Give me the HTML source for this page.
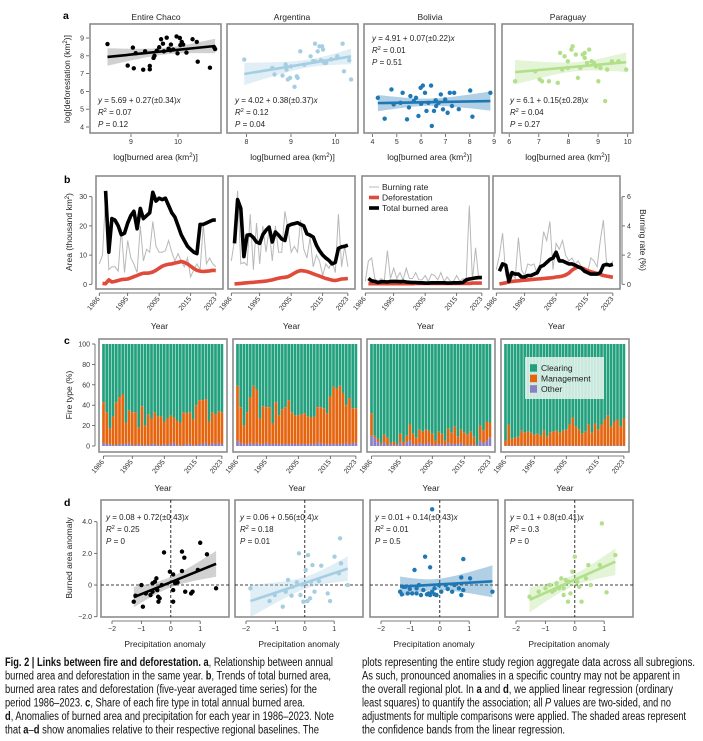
<!DOCTYPE html>
<html><head><meta charset="utf-8">
<style>
html,body{margin:0;padding:0;background:#fff;}
svg{display:block;font-family:"Liberation Sans",sans-serif;}
.t7{font-size:7px;fill:#333;}
.t8{font-size:8.5px;fill:#222;}
.lt{font-size:10.5px;font-weight:bold;fill:#000;}
.cap{font-family:"Liberation Sans Narrow","Liberation Sans",sans-serif;font-size:11.5px;fill:#111;}
</style></head>
<body>
<svg id="fig" width="703" height="741" viewBox="0 0 703 741" xmlns="http://www.w3.org/2000/svg">
<text class="lt" x="63" y="19">a</text>
<text class="lt" x="64" y="183">b</text>
<text class="lt" x="64" y="344">c</text>
<text class="lt" x="64" y="506">d</text>
<g class="t8" text-anchor="middle">
<text x="156" y="20">Entire Chaco</text>
<text x="292" y="20">Argentina</text>
<text x="430" y="20">Bolivia</text>
<text x="568" y="20">Paraguay</text>
<text transform="translate(70,79) rotate(-90)">log[deforestation (km<tspan dy="-3" font-size="6">2</tspan><tspan dy="3">)]</tspan></text>
<text transform="translate(72,232) rotate(-90)">Area (thousand km<tspan dy="-3" font-size="6">2</tspan><tspan dy="3">)</tspan></text>
<text transform="translate(640,240) rotate(90)">Burning rate (%)</text>
<text transform="translate(72,395) rotate(-90)">Fire type (%)</text>
<text transform="translate(72,558) rotate(-90)">Burned area anomaly</text>
</g>
<g id="cap" class="cap">
<text x="5" y="666" textLength="328" lengthAdjust="spacingAndGlyphs"><tspan font-weight="bold">Fig. 2 | Links between fire and deforestation.</tspan> <tspan font-weight="bold">a</tspan>, Relationship between annual</text>
<text x="5" y="679.5" textLength="326" lengthAdjust="spacingAndGlyphs">burned area and deforestation in the same year. <tspan font-weight="bold">b</tspan>, Trends of total burned area,</text>
<text x="5" y="693" textLength="312" lengthAdjust="spacingAndGlyphs">burned area rates and deforestation (five-year averaged time series) for the</text>
<text x="5" y="706.5" textLength="300" lengthAdjust="spacingAndGlyphs">period 1986–2023. <tspan font-weight="bold">c</tspan>, Share of each fire type in total annual burned area.</text>
<text x="5" y="720" textLength="329" lengthAdjust="spacingAndGlyphs"><tspan font-weight="bold">d</tspan>, Anomalies of burned area and precipitation for each year in 1986–2023. Note</text>
<text x="5" y="733.5" textLength="314" lengthAdjust="spacingAndGlyphs">that <tspan font-weight="bold">a</tspan>–<tspan font-weight="bold">d</tspan> show anomalies relative to their respective regional baselines. The</text>
<text x="362" y="666" textLength="333" lengthAdjust="spacingAndGlyphs">plots representing the entire study region aggregate data across all subregions.</text>
<text x="362" y="679.5" textLength="318" lengthAdjust="spacingAndGlyphs">As such, pronounced anomalies in a specific country may not be apparent in</text>
<text x="362" y="693" textLength="311" lengthAdjust="spacingAndGlyphs">the overall regional plot. In <tspan font-weight="bold">a</tspan> and <tspan font-weight="bold">d</tspan>, we applied linear regression (ordinary</text>
<text x="362" y="706.5" textLength="309" lengthAdjust="spacingAndGlyphs">least squares) to quantify the association; all <tspan font-style="italic">P</tspan> values are two-sided, and no</text>
<text x="362" y="720" textLength="324" lengthAdjust="spacingAndGlyphs">adjustments for multiple comparisons were applied. The shaded areas represent</text>
<text x="362" y="733.5" textLength="203" lengthAdjust="spacingAndGlyphs">the confidence bands from the linear regression.</text>
</g>
</svg>
<script>
// ---------- DATA ----------
const regions = ['entire-chaco','argentina','bolivia','paraguay'];
const regionColors = ['#000000','#a6cee3','#1f78b4','#b2df8a'];

// Panel a: [log burned area, log deforestation]
const aChaco = [[8.50,8.66],[9.04,8.46],[8.93,7.45],[9.06,7.30],[9.26,7.22],[9.40,7.43],[9.40,7.24],[9.48,7.88],[9.55,8.29],[9.60,8.48],[9.64,8.93],[9.68,8.68],[9.76,9.02],[9.85,8.63],[9.84,8.31],[9.97,9.09],[10.04,9.0],[10.08,8.78],[10.11,8.63],[9.99,8.14],[10.18,8.18],[10.31,8.93],[10.40,8.78],[10.42,7.67],[10.68,7.33],[10.77,8.48],[10.79,8.38],[9.1,8.15],[9.3,8.25],[9.7,8.25],[9.9,8.35],[10.05,8.6],[9.5,8.0],[9.8,8.4]];
const aArgentina = [[7.95,7.79],[8.58,7.32],[8.81,6.89],[8.88,7.51],[8.90,7.23],[8.98,6.76],[9.08,6.26],[8.93,6.67],[9.13,6.85],[9.15,6.76],[9.21,8.25],[9.44,7.97],[9.54,8.68],[9.60,8.25],[9.64,8.53],[9.70,8.53],[9.72,8.35],[9.74,7.69],[9.67,7.75],[9.54,7.69],[9.79,7.60],[10.04,7.97],[10.16,8.68],[10.19,7.13],[10.31,7.75],[10.35,6.67],[9.75,7.6],[8.63,6.95],[9.0,7.4],[9.3,7.5],[9.5,7.7],[9.9,7.8]];
const aBolivia = [[4.22,5.64],[4.50,4.47],[4.78,6.11],[4.87,5.27],[5.15,5.36],[5.24,5.92],[5.42,4.43],[5.56,5.74],[5.70,5.46],[5.79,5.64],[5.89,4.62],[5.98,6.20],[6.07,6.33],[6.16,5.92],[6.22,4.90],[6.30,5.36],[6.41,6.33],[6.44,4.06],[6.53,4.90],[6.62,5.18],[6.72,5.36],[6.81,5.83],[6.90,4.99],[6.99,5.55],[7.09,4.80],[7.18,5.92],[7.27,5.18],[7.36,5.92],[7.55,5.0],[8.02,6.05],[8.11,4.58],[8.85,5.92],[6.0,5.3],[6.6,5.5],[5.5,5.1]];
const aParaguay = [[6.20,6.57],[6.88,7.13],[7.03,6.67],[7.11,6.57],[7.34,6.57],[7.64,6.48],[7.72,8.16],[7.79,7.23],[7.87,7.97],[7.98,7.69],[8.10,8.35],[8.14,8.53],[8.25,8.07],[8.32,6.76],[8.40,7.32],[8.48,8.07],[8.55,7.88],[8.63,7.60],[8.70,8.35],[8.78,7.69],[8.86,7.60],[8.93,7.41],[9.01,6.57],[9.08,7.32],[9.24,5.46],[9.31,7.23],[9.47,7.69],[9.69,7.69],[9.95,7.23],[7.98,7.32],[8.55,8.16]];
const aEquations = ['5.69 + 0.27(±0.34)','4.02 + 0.38(±0.37)','4.91 + 0.07(±0.22)','6.1 + 0.15(±0.28)'];
const aR2 = ['0.07','0.12','0.01','0.04'];
const aP = ['0.12','0.04','0.51','0.27'];
const aXTicks = [[9,10],[8,9,10],[4,5,6,7,8,9],[6,7,8,9,10]];
const aYTicks = [4,5,6,7,8,9];

// Panel b: years 1986-2023 (thousand km2 / %)
const years = [1986,1987,1988,1989,1990,1991,1992,1993,1994,1995,1996,1997,1998,1999,2000,2001,2002,2003,2004,2005,2006,2007,2008,2009,2010,2011,2012,2013,2014,2015,2016,2017,2018,2019,2020,2021,2022,2023];
const yearTicks = [1986,1995,2005,2015,2023];
const burnedChaco = [null,null,32,11,22.5,22,20,17,17.5,21,23.5,25,19,26,22.5,23.5,24.5,31.5,28.5,29.5,29,29.5,27,24.5,23,20,17,15,13,12,11,10.5,20.5,20.5,21,21.5,22,22];
const burnedArgentina = [null,14,29,26,9.5,16.8,17,16,14.5,14,17,18.5,19.6,14.5,17.9,16.8,15.5,15,20,20.5,20.8,21.1,20.5,20,17.3,16.8,16.2,13.4,11.5,10,9,8.2,7,7.5,12.3,12.8,13,13.4];
const burnedBolivia = [null,2,1.2,1,0.6,0.9,0.9,0.8,1,1,1,0.9,1,0.8,0.7,0.6,0.6,0.5,0.5,0.4,0.4,0.5,0.5,0.5,0.5,0.5,0.4,0.4,0.5,0.5,0.5,0.6,1.5,1.8,2,2.2,2.3,2.3];
const burnedParaguay = [null,4.5,7,6.5,1,4,3.5,3.5,2.5,2.5,3,3,3.5,4,6,6.5,7.5,8.5,9,11,8,8,7.5,7,7,6.5,6,5.5,4.5,4,3.5,3.5,3.5,4,6.5,6.8,6.5,6.8];
const deforChaco = [null,0.3,0.2,1.5,0.8,1.0,1.3,1.6,1.7,1.8,2.2,2.6,3.0,3.5,3.8,3.8,3.9,4.2,4.8,5.5,6.2,6.6,6.9,7.0,7.3,7.5,7.8,7.5,7.0,6.2,5.4,4.8,4.5,4.4,4.5,4.6,4.8,4.7];
const deforArgentina = [null,0.1,0.2,0.3,0.4,0.5,0.6,0.7,0.8,0.9,1.0,1.1,1.3,1.5,1.8,2.1,2.3,2.4,2.6,3.2,3.8,4.4,4.7,4.6,4.4,4.0,3.6,3.2,2.8,2.4,2.0,1.7,1.4,1.3,1.5,1.8,1.9,2.0];
const deforBolivia = [null,0.2,0.2,0.2,0.2,0.2,0.2,0.2,0.2,0.2,0.2,0.2,0.2,0.2,0.2,0.2,0.3,0.3,0.3,0.3,0.3,0.3,0.3,0.3,0.3,0.3,0.3,0.3,0.3,0.3,0.3,0.3,0.3,0.3,0.4,0.4,0.4,0.4];
const deforParaguay = [null,0.1,0.3,0.5,0.8,1,1.1,1.2,1.3,1.4,1.5,1.6,1.7,1.8,1.9,2,2.1,2.2,2.3,2.5,2.6,2.8,3.2,3.8,4.8,5.5,6.0,5.6,5.2,4.7,4.3,4.0,3.7,3.4,3.0,2.8,2.6,2.4];
const rateChaco = [1.4,2,6,1,1.2,1.2,0.9,3.8,0.8,3,1.8,1.4,0.8,4,1.6,2.4,2.2,4.3,2.6,2.2,2.2,2.3,3,2.2,1.6,2.1,1.6,1.2,1.8,0.5,1,1.4,1,4.1,1.4,1.8,1.4,1.2];
const rateArgentina = [1.6,3,6.4,1.4,1.5,1.3,4.8,1,4.2,1.4,4,2.2,3.8,1.6,4,2.2,2.2,5,3.8,2.2,2.6,2.2,4.4,2.4,1.8,3.2,1.2,2,1.6,0.6,1.4,1.1,1.6,0.8,4.8,1.2,2.6,1.2];
const rateBolivia = [0.2,1.6,1.8,0.4,0.2,0.4,0.2,2.3,0.4,1.1,0.4,0.8,0.3,1.1,0.4,0.4,0.8,0.3,0.3,0.6,0.2,0.7,0.6,0.3,0.8,0.2,0.5,0.2,0.2,0.6,0.2,0.4,0.2,5.4,0.3,2.5,0.4,0.5];
const rateParaguay = [1,2,3.5,0.6,0.8,0.7,0.4,3.2,1,0.6,1.4,1.3,1.4,0.6,1.6,3.6,3,4.3,1,2.8,2.4,3,2,1.6,1.8,1.4,1.6,1.2,1,0.8,1.8,1.6,1.2,3,4.4,1.4,1.2,1.6];
const bYTicks = [0,10,20,30];
const bRateTicks = [0,2,4,6];

// Panel c: share (%) of management and other fire
const mgmtChaco = [40,31,15,28,42,46,49,21,32,32,32,16,38,19,30,25,31,28,28,22,26,28,25,24,22,32,30,31,25,39,43,43,43,23,30,29,31,31];
const otherChaco = [3,2,2,1,1,2,2,2,3,1,1,2,1,1,1,2,2,1,1,2,1,2,3,1,1,1,2,2,1,1,2,2,3,1,3,2,3,2];
const mgmtArgentina = [54,35,18,31,45,57,52,25,37,35,36,20,41,28,34,36,43,31,28,28,29,30,27,26,27,35,35,35,30,47,56,54,57,50,37,45,34,34];
const otherArgentina = [5,3,2,2,3,2,3,2,2,3,2,2,2,2,2,2,2,2,2,2,2,2,2,2,2,3,3,2,2,2,2,2,2,2,3,2,3,3];
const mgmtBolivia = [22,2,3,1,8,7,1,3,1,9,3,6,16,10,7,13,12,14,12,11,4,12,10,4,14,11,17,7,13,12,10,13,8,0.5,15,12,19,15];
const otherBolivia = [10,8,4,2,3,1,2,1,1,3,1,4,5,2,1,3,2,2,3,1,1,2,2,1,3,2,2,2,3,1,1,1,1,0.5,5,3,5,8];
const mgmtParaguay = [4.5,20.5,6.5,7.5,8.5,14.5,12.5,13.5,12.5,10.5,11.5,9.5,14.5,8.5,12.5,13.5,14.5,12.5,14.5,15.5,20.5,27.5,18.5,15.5,11.5,13.5,20.5,12.5,21.5,15.5,20.5,25.5,29.5,18.5,23.5,25.5,18.5,26.5];
const otherParaguay = [0.5,0.5,0.5,0.5,0.5,0.5,0.5,0.5,0.5,0.5,0.5,0.5,0.5,0.5,0.5,0.5,0.5,0.5,0.5,0.5,0.5,0.5,0.5,0.5,0.5,0.5,0.5,0.5,0.5,0.5,0.5,0.5,0.5,0.5,0.5,0.5,0.5,0.5];
const cYTicks = [0,20,40,60,80,100];

// Panel d: [precipitation anomaly, burned area anomaly]
const dChaco = [[-1.26,-1.05],[-1.2,-0.67],[-1,0],[-0.95,-1.37],[-0.85,-0.53],[-0.69,-0.63],[-0.62,0.11],[-0.54,0.21],[-0.49,0.42],[-0.46,-0.32],[-0.43,-0.74],[-0.42,-1.05],[-0.38,-0.84],[-0.62,-0.42],[-0.23,2.06],[-0.03,0.84],[0.08,-0.32],[0.08,-1.05],[0.15,0.11],[0.23,0.17],[0.38,2.11],[0.38,0.88],[0.46,1.73],[0.49,-0.42],[0.69,-0.53],[0.74,-0.42],[0.92,0.95],[1,2.67],[1.23,1.94],[1.54,-0.21],[0.08,0.67],[-0.31,0]];
const dArgentina = [[-1.85,-0.21],[-1.2,-1.01],[-1.02,-0.63],[-0.75,-1.37],[-0.65,-0.42],[-0.57,0.32],[-0.42,-0.11],[-0.27,0.17],[-0.2,2.0],[-0.15,-0.63],[-0.09,0.04],[-0.05,-1.05],[0.03,0.95],[0.09,-1.01],[0.11,1.89],[0.21,0.21],[0.26,1.26],[0.33,-0.42],[0.48,0.25],[0.56,1.22],[0.78,-0.53],[0.86,-1.01],[1.01,1.79],[1.16,0.74],[1.2,2.95],[1.23,1.37],[1.46,0],[-0.45,-0.67],[0.18,-0.84]];
const dBolivia = [[-1.35,-0.42],[-1.29,-0.59],[-1.24,-0.11],[-1.17,-0.11],[-1.09,-0.53],[-1.02,-0.25],[-0.94,-0.53],[-0.86,0.95],[-0.79,-0.21],[-0.71,0],[-0.64,-0.63],[-0.56,-0.32],[-0.5,1.79],[-0.44,-0.59],[-0.38,-0.53],[-0.33,-0.63],[-0.33,1.12],[-0.26,-0.42],[-0.18,-0.21],[-0.11,-0.63],[-0.03,0],[0.05,-0.42],[0.2,0],[0.27,-0.25],[0.42,-0.42],[0.5,0],[0.65,-0.21],[0.73,-0.63],[0.73,0.48],[0.8,1.64],[0.8,-0.32],[1.03,0.42],[1.79,-0.42],[-0.26,4.78],[-0.79,-0.53],[-0.18,-0.59]];
const dParaguay = [[-1.54,-0.74],[-1.23,-0.42],[-1,-0.21],[-0.85,0],[-0.77,-0.42],[-0.69,-0.32],[-0.62,0.11],[-0.54,-0.21],[-0.46,0.42],[-0.38,-0.63],[-0.31,0.32],[-0.23,-1.05],[-0.15,-0.53],[-0.08,0.84],[0,1.79],[0.08,0.21],[0.15,-0.11],[0.23,-1.05],[0.38,0.42],[0.46,1.26],[0.54,0],[0.85,1.26],[0.92,3.89],[1.08,-0.46],[1.38,1.89],[-0.2,0.21],[-0.38,-0.21]];
const dEquations = ['0.08 + 0.72(±0.43)','0.06 + 0.56(±0.4)','0.01 + 0.14(±0.43)','0.1 + 0.8(±0.41)'];
const dR2 = ['0.25','0.18','0.01','0.3'];
const dP = ['0','0.01','0.5','0'];
const dXTicks = [-2,-1,0,1];
const dYTicks = [-2,0,2,4];
const dYTickLabels = ['−2.0','0','2.0','4.0'];

// ---------- DRAWING ----------
const NS='http://www.w3.org/2000/svg';
const svg=document.getElementById('fig');
function mk(tag, attrs, parent){const e=document.createElementNS(NS,tag);for(const k in attrs)e.setAttribute(k,attrs[k]);(parent||svg).appendChild(e);return e;}
function lin(d0,d1,r0,r1){return v=>r0+(v-d0)*(r1-r0)/(d1-d0);}

function box(x,y,w,h,name){
  const r=mk('rect',{x:x,y:y,width:w,height:h,fill:'none',stroke:'#8c8c8c','stroke-width':1.6});
  
  
}
function label(x,y,str,cls,anchor,name){
  const t=mk('text',{x:x,y:y,class:cls,'text-anchor':anchor||'middle'});
  t.textContent=str;
  
  
  return t;
}
function tickLine(x1,y1,x2,y2,name){
  const l=mk('line',{x1:x1,y1:y1,x2:x2,y2:y2,stroke:'#555','stroke-width':0.8});
  
  
}
function ols(pts){
  const n=pts.length;let mx=0,my=0;pts.forEach(p=>{mx+=p[0];my+=p[1];});mx/=n;my/=n;
  let sxx=0,sxy=0;pts.forEach(p=>{sxx+=(p[0]-mx)**2;sxy+=(p[0]-mx)*(p[1]-my);});
  const b=sxy/sxx,a=my-b*mx;let sse=0;pts.forEach(p=>{sse+=(p[1]-a-b*p[0])**2;});
  const s=Math.sqrt(sse/(n-2));
  return {a,b,mx,sxx,s,n,xmin:Math.min(...pts.map(p=>p[0])),xmax:Math.max(...pts.map(p=>p[0]))};
}
function eqText(x,y,eq,r2,p,name){
  const g=mk('g',{class:'t8'});
  
  
  const t1=mk('text',{x:x,y:y,'font-size':'8'},g);
  t1.innerHTML='<tspan font-style="italic">y</tspan> = '+eq+'<tspan font-style="italic">x</tspan>';
  const t2=mk('text',{x:x,y:y+12,'font-size':'8'},g);
  t2.innerHTML='<tspan font-style="italic">R</tspan><tspan dy="-3" font-size="5.5">2</tspan><tspan dy="3"> = '+r2+'</tspan>';
  const t3=mk('text',{x:x,y:y+24,'font-size':'8'},g);
  t3.innerHTML='<tspan font-style="italic">P</tspan> = '+p;
}
function scatter(pts,sx,sy,color,region,prefix){
  const g=mk('g',{});
  
  
  const f=ols(pts);const tcrit=2.03;
  const N=30;let up=[],lo=[];
  for(let i=0;i<=N;i++){const xv=f.xmin+(f.xmax-f.xmin)*i/N;const yv=f.a+f.b*xv;
    const se=f.s*Math.sqrt(1/f.n+(xv-f.mx)**2/f.sxx)*tcrit;
    up.push(sx(xv).toFixed(1)+','+sy(yv+se).toFixed(1));lo.unshift(sx(xv).toFixed(1)+','+sy(yv-se).toFixed(1));}
  const band=mk('polygon',{points:up.concat(lo).join(' '),fill:color==='#000000'?'#9a9a9a':color,'fill-opacity':color==='#000000'?0.45:0.35},g);
  
  
  pts.forEach((p,i)=>{
    const c=mk('circle',{cx:sx(p[0]).toFixed(2),cy:sy(p[1]).toFixed(2),r:2.2,fill:color},g);
    
    
  });
  const ln=mk('line',{x1:sx(f.xmin),y1:sy(f.a+f.b*f.xmin),x2:sx(f.xmax),y2:sy(f.a+f.b*f.xmax),stroke:color,'stroke-width':2.6},g);
  
  
}

// ---- Panel a ----
const aLeft=[90,227,364,502], aW=131, aTop=24, aBot=133;
const aXDom=[[8.128,10.915],[7.562,10.506],[3.65,9.04],[5.757,10.18]];
const aSets=[aChaco,aArgentina,aBolivia,aParaguay];
const aYs=lin(3.663,9.787,aBot,aTop);
aSets.forEach((pts,i)=>{
  const sx=lin(aXDom[i][0],aXDom[i][1],aLeft[i],aLeft[i]+aW);
  box(aLeft[i],aTop,aW,aBot-aTop,'panel-a-'+regions[i]+'-frame');
  scatter(pts,sx,aYs,regionColors[i],regions[i],'panel-a');
  aXTicks[i].forEach(v=>{tickLine(sx(v),aBot+1,sx(v),aBot+4,'panel-a-x-tick');label(sx(v),aBot+11,String(v),'t7','middle','panel-a-x-tick-label');});
  label(aLeft[i]+aW/2,160,'','t8','middle','panel-a-x-axis-title').innerHTML='log[burned area (km<tspan dy="-3" font-size="6">2</tspan><tspan dy="3">)]</tspan>';
  if(i===2) eqText(aLeft[i]+8,41,aEquations[i],aR2[i],aP[i],'panel-a-'+regions[i]+'-equation');
  else eqText(aLeft[i]+8,103,aEquations[i],aR2[i],aP[i],'panel-a-'+regions[i]+'-equation');
});
aYTicks.forEach(v=>{tickLine(86,aYs(v),89,aYs(v),'panel-a-y-tick');label(84,aYs(v)+2.5,String(v),'t7','end','panel-a-y-tick-label');});

// ---- Panel b ----
const bLeft=[96,228,362,493], bW=127, bTop=176, bBot=289;
const bYs=lin(0,30,284.3,196.7);
const bRs=lin(0,6,284.3,196.7);
const burnedSets=[burnedChaco,burnedArgentina,burnedBolivia,burnedParaguay];
const deforSets=[deforChaco,deforArgentina,deforBolivia,deforParaguay];
const rateSets=[rateChaco,rateArgentina,rateBolivia,rateParaguay];
function pathFrom(vals,sx,sy){let d='',pen=false;vals.forEach((v,i)=>{if(v===null){pen=false;return;}d+=(pen?'L':'M')+sx(years[i]).toFixed(1)+','+sy(v).toFixed(1);pen=true;});return d;}
for(let i=0;i<4;i++){
  const sx=lin(1986,2023,bLeft[i]+3.3,bLeft[i]+3.3+37*3.15);
  box(bLeft[i],bTop,bW,bBot-bTop,'panel-b-'+regions[i]+'-frame');
  const g=mk('g',{});
  
  
  const pr=mk('path',{d:pathFrom(rateSets[i],sx,bRs),fill:'none',stroke:'#b8b8b8','stroke-width':1},g);
  
  
  const pd=mk('path',{d:pathFrom(deforSets[i],sx,bYs),fill:'none',stroke:'#e04a3b','stroke-width':3.6,'stroke-linejoin':'round'},g);
  
  
  const pb=mk('path',{d:pathFrom(burnedSets[i],sx,bYs),fill:'none',stroke:'#000','stroke-width':3.6,'stroke-linejoin':'round'},g);
  
  
  tickLine(sx(1986),293,sx(2023),293,'panel-b-x-axis-line');
  yearTicks.forEach(y=>{tickLine(sx(y),293,sx(y),296,'panel-b-x-tick');
    const t=label(sx(y)+1,299,String(y),'t7','end','panel-b-x-tick-label');t.setAttribute('transform','rotate(-50 '+(sx(y)+1)+' 299)');});
  label(bLeft[i]+bW/2,329,'Year','t8','middle','panel-b-x-axis-title');
}
tickLine(92,bYs(0),92,bYs(30),'panel-b-y-axis-line');
bYTicks.forEach(v=>{tickLine(89,bYs(v),92,bYs(v),'panel-b-y-tick');label(87,bYs(v)+2.5,String(v),'t7','end','panel-b-y-tick-label');});
tickLine(622,bRs(0),622,bRs(6),'panel-b-right-axis-line');
bRateTicks.forEach(v=>{tickLine(622,bRs(v),625,bRs(v),'panel-b-right-tick');label(627,bRs(v)+2.5,String(v),'t7','start','panel-b-right-tick-label');});
// legend
const legItems=[['Burning rate','#b8b8b8',1],['Deforestation','#e04a3b',3.6],['Total burned area','#000',3.6]];
legItems.forEach((it,k)=>{const y=187+k*10.5;
  const l=mk('line',{x1:369,y1:y,x2:379,y2:y,stroke:it[1],'stroke-width':it[2]});
  
  
  label(382,y+3,it[0],'t8','start','panel-b-legend-entry').setAttribute('font-size','8');});

// ---- Panel c ----
const cLeft=[99,233,367,501], cW=128, cTop=339, cBot=452;
const cYs=lin(0,100,446,344);
const mgmtSets=[mgmtChaco,mgmtArgentina,mgmtBolivia,mgmtParaguay];
const otherSets=[otherChaco,otherArgentina,otherBolivia,otherParaguay];
for(let i=0;i<4;i++){
  const sx=lin(1986,2023,cLeft[i]+4.5,cLeft[i]+4.5+37*3.2);
  box(cLeft[i],cTop,cW,cBot-cTop,'panel-c-'+regions[i]+'-frame');
  const g=mk('g',{});
  
  
  years.forEach((y,j)=>{
    const x=sx(y)-1.35,w=2.7;const o=otherSets[i][j],m=mgmtSets[i][j];
    const rc=mk('rect',{x:x,y:cYs(100),width:w,height:cYs(o+m)-cYs(100),fill:'#23a07d'},g);
    
    
    const rm=mk('rect',{x:x,y:cYs(o+m),width:w,height:cYs(o)-cYs(o+m),fill:'#e5650e'},g);
    
    
    const ro=mk('rect',{x:x,y:cYs(o),width:w,height:cYs(0)-cYs(o),fill:'#8a7fc4'},g);
    
    
  });
  tickLine(sx(1986),456,sx(2023),456,'panel-c-x-axis-line');
  yearTicks.forEach(y=>{tickLine(sx(y),456,sx(y),459,'panel-c-x-tick');
    const t=label(sx(y)+1,462,String(y),'t7','end','panel-c-x-tick-label');t.setAttribute('transform','rotate(-50 '+(sx(y)+1)+' 462)');});
  label(cLeft[i]+cW/2,491,'Year','t8','middle','panel-c-x-axis-title');
}
cYTicks.forEach(v=>{tickLine(92,cYs(v),95,cYs(v),'panel-c-y-tick');label(90,cYs(v)+2.5,String(v),'t7','end','panel-c-y-tick-label');});
tickLine(95,cYs(0),95,cYs(100),'panel-c-y-axis-line');
const lg=mk('rect',{x:525,y:357,width:79,height:42,fill:'#e6f4ef','fill-opacity':0.85});


[['Clearing','#23a07d'],['Management','#e5650e'],['Other','#8a7fc4']].forEach((it,k)=>{const y=368+k*10.5;
  const s=mk('rect',{x:530,y:y-3.8,width:7,height:7.5,fill:it[1]});
  
  
  label(541,y+3,it[0],'t8','start','panel-c-legend-entry').setAttribute('font-size','8');});

// ---- Panel d ----
const dLeft=[101,235,370,505], dW=128, dTop=500, dBot=617;
const dYs=lin(-2,4,616.7,521.7);
const dSets=[dChaco,dArgentina,dBolivia,dParaguay];
dSets.forEach((pts,i)=>{
  const sx=lin(-2,1,dLeft[i]+11,dLeft[i]+11+3*29.4);
  box(dLeft[i],dTop,dW,dBot-dTop,'panel-d-'+regions[i]+'-frame');
  const h=mk('line',{x1:dLeft[i],y1:dYs(0),x2:dLeft[i]+dW,y2:dYs(0),stroke:'#000','stroke-width':0.8,'stroke-dasharray':'3,2'});
  
  
  const v=mk('line',{x1:sx(0),y1:dTop,x2:sx(0),y2:dBot,stroke:'#000','stroke-width':0.8,'stroke-dasharray':'3,2'});
  
  
  scatter(pts,sx,dYs,regionColors[i],regions[i],'panel-d');
  tickLine(sx(-2),621,sx(1),621,'panel-d-x-axis-line');
  dXTicks.forEach(t=>{tickLine(sx(t),621,sx(t),624,'panel-d-x-tick');label(sx(t),631,t<0?'−'+Math.abs(t):String(t),'t7','middle','panel-d-x-tick-label');});
  label(dLeft[i]+dW/2,647,'Precipitation anomaly','t8','middle','panel-d-x-axis-title');
  eqText(dLeft[i]+5,520,dEquations[i],dR2[i],dP[i],'panel-d-'+regions[i]+'-equation');
});
tickLine(97,dYs(-2),97,dYs(4),'panel-d-y-axis-line');
dYTicks.forEach((v,k)=>{tickLine(94,dYs(v),97,dYs(v),'panel-d-y-tick');label(92,dYs(v)+2.5,dYTickLabels[k],'t7','end','panel-d-y-tick-label');});
</script>
</body></html>
